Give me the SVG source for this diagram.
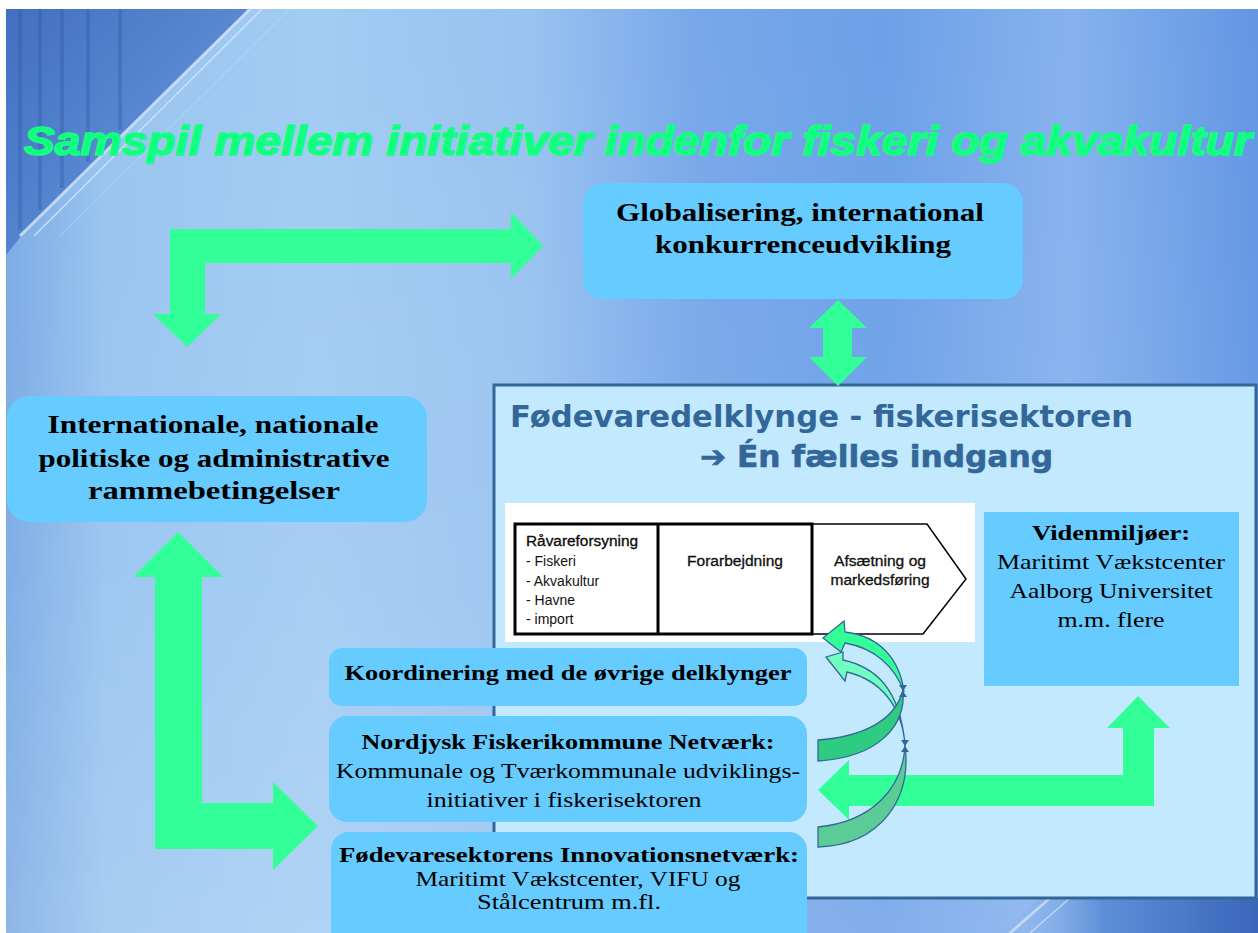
<svg xmlns="http://www.w3.org/2000/svg" width="1258" height="933" viewBox="0 0 1258 933">
<defs>
<linearGradient id="bg" x1="0" y1="0" x2="1" y2="0">
<stop offset="0" stop-color="#7aaae4"/>
<stop offset="0.08" stop-color="#98c4f0"/>
<stop offset="0.25" stop-color="#a2ccf3"/>
<stop offset="0.42" stop-color="#98c2f0"/>
<stop offset="0.55" stop-color="#78a8ea"/>
<stop offset="0.7" stop-color="#6ca0e8"/>
<stop offset="0.85" stop-color="#86b2ee"/>
<stop offset="1" stop-color="#6296e4"/>
</linearGradient>
<linearGradient id="bgv" x1="0" y1="0" x2="0" y2="1">
<stop offset="0" stop-color="#ffffff" stop-opacity="0"/>
<stop offset="0.6" stop-color="#ffffff" stop-opacity="0.05"/>
<stop offset="1" stop-color="#ffffff" stop-opacity="0.15"/>
</linearGradient>
<linearGradient id="dark" x1="0" y1="0" x2="1" y2="1">
<stop offset="0" stop-color="#3864b8"/>
<stop offset="0.6" stop-color="#4f82d0"/>
<stop offset="1" stop-color="#6e9fe2" stop-opacity="0.3"/>
</linearGradient>
<linearGradient id="dark2" x1="0" y1="0" x2="1" y2="0">
<stop offset="0" stop-color="#8db8ec" stop-opacity="0"/>
<stop offset="0.4" stop-color="#5d8fd8"/>
<stop offset="1" stop-color="#3a66b8"/>
</linearGradient>
<style>
.box{fill:#66ccff;}
.arrow{fill:#33ff99;}
.curve{stroke:#336699;stroke-width:1.3;}
.serif{font-family:"Liberation Serif","DejaVu Serif",serif;fill:#000;}
.b{font-weight:bold;}
.mid{text-anchor:middle;}
.proc{font-family:"Liberation Sans",Arial,sans-serif;font-size:14px;fill:#111;}
.ptitle{font-family:"DejaVu Sans","Liberation Sans",sans-serif;font-weight:bold;font-size:30px;fill:#336699;}
</style>
</defs>

<!-- background -->
<rect x="0" y="0" width="1258" height="933" fill="#ffffff"/>
<rect x="6" y="9" width="1252" height="924" fill="url(#bg)"/>
<rect x="6" y="9" width="1252" height="924" fill="url(#bgv)"/>
<polygon points="6,9 250,9 22,235 6,255" fill="url(#dark)" opacity="0.85"/>
<g stroke="#2f5aa8" stroke-width="4" opacity="0.35">
<line x1="20" y1="9" x2="20" y2="230"/>
<line x1="40" y1="9" x2="40" y2="210"/>
<line x1="62" y1="9" x2="62" y2="188"/>
<line x1="88" y1="9" x2="88" y2="162"/>
<line x1="120" y1="9" x2="120" y2="130"/>
</g>
<g stroke="#dbe8fb" fill="none" opacity="0.8">
<line x1="250" y1="9" x2="20" y2="236" stroke-width="3"/>
<line x1="262" y1="9" x2="34" y2="236" stroke-width="1.5"/>
<line x1="290" y1="9" x2="60" y2="236" stroke-width="1" opacity="0.5"/>
</g>
<polygon points="1000,933 1040,898 1258,898 1258,933" fill="url(#dark2)"/>
<g stroke="#dbe8fb" fill="none" opacity="0.7">
<line x1="1010" y1="933" x2="1050" y2="898" stroke-width="2.5"/>
<line x1="1030" y1="933" x2="1070" y2="898" stroke-width="1.5"/>
</g>

<!-- title -->
<g id="title">
<text x="24" y="155" textLength="1228" lengthAdjust="spacingAndGlyphs" font-family="'Liberation Sans',Arial,sans-serif" font-weight="bold" font-style="italic" font-size="41" fill="#12ff80" stroke="#12ff80" stroke-width="1.6" stroke-linejoin="round">Samspil mellem initiativer indenfor fiskeri og akvakultur</text>
</g>

<!-- main panel -->
<g id="node-foedevaredelklynge">
<rect x="494" y="385" width="762" height="513" fill="#c2e9fd" stroke="#336699" stroke-width="3"/>
<text class="ptitle" x="510" y="427" textLength="623" lengthAdjust="spacingAndGlyphs">Fødevaredelklynge - fiskerisektoren</text>
<text class="ptitle" x="700" y="467" textLength="353" lengthAdjust="spacingAndGlyphs" stroke="#336699" stroke-width="0.6">➔ Én fælles indgang</text>
</g>

<g id="node-vaerdikaede">
<rect x="505" y="503" width="470" height="139" fill="#ffffff"/>
<path d="M812,524 L927,524 L966,579 L923,634 L812,634" fill="none" stroke="#000" stroke-width="1.5"/>
<rect x="515" y="524" width="297" height="110" fill="none" stroke="#000" stroke-width="3"/>
<line x1="658" y1="524" x2="658" y2="634" stroke="#000" stroke-width="3"/>
<text class="proc" x="526" y="546" textLength="112" lengthAdjust="spacingAndGlyphs" fill="#000" stroke="#000" stroke-width="0.3">Råvareforsyning</text>
<text class="proc" x="526" y="566" fill="#333">- Fiskeri</text>
<text class="proc" x="526" y="586" fill="#333">- Akvakultur</text>
<text class="proc" x="526" y="605" fill="#333">- Havne</text>
<text class="proc" x="526" y="624" fill="#333">- import</text>
<text class="proc mid" x="735" y="566" textLength="96" lengthAdjust="spacingAndGlyphs" stroke="#111" stroke-width="0.3">Forarbejdning</text>
<text class="proc mid" x="880" y="566" textLength="92" lengthAdjust="spacingAndGlyphs" stroke="#111" stroke-width="0.3">Afsætning og</text>
<text class="proc mid" x="880" y="585" textLength="99" lengthAdjust="spacingAndGlyphs" stroke="#111" stroke-width="0.3">markedsføring</text>
</g>

<g id="node-videnmiljoer">
<rect x="984" y="512" width="255" height="174" class="box"/>
<text class="serif b mid" x="1111" y="540" font-size="21" textLength="158" lengthAdjust="spacingAndGlyphs">Videnmiljøer:</text>
<text class="serif mid" x="1111" y="569" font-size="21" textLength="228" lengthAdjust="spacingAndGlyphs">Maritimt Vækstcenter</text>
<text class="serif mid" x="1111" y="598" font-size="21" textLength="203" lengthAdjust="spacingAndGlyphs">Aalborg Universitet</text>
<text class="serif mid" x="1111" y="627" font-size="21" textLength="107" lengthAdjust="spacingAndGlyphs">m.m. flere</text>
</g>

<g id="node-globalisering">
<rect x="583" y="183" width="440" height="116" rx="20" class="box"/>
<text class="serif b mid" x="800" y="221" font-size="26" textLength="368" lengthAdjust="spacingAndGlyphs">Globalisering, international</text>
<text class="serif b mid" x="803" y="253" font-size="26" textLength="296" lengthAdjust="spacingAndGlyphs">konkurrenceudvikling</text>
</g>

<g id="node-internationale">
<rect x="7" y="396" width="420" height="126" rx="22" class="box"/>
<text class="serif b mid" x="213" y="433" font-size="26" textLength="331" lengthAdjust="spacingAndGlyphs">Internationale, nationale</text>
<text class="serif b mid" x="214" y="467" font-size="26" textLength="351" lengthAdjust="spacingAndGlyphs">politiske og administrative</text>
<text class="serif b mid" x="214" y="499" font-size="26" textLength="252" lengthAdjust="spacingAndGlyphs">rammebetingelser</text>
</g>

<g id="node-koordinering">
<rect x="329" y="648" width="478" height="58" rx="13" class="box"/>
<text class="serif b mid" x="568" y="680" font-size="22" textLength="447" lengthAdjust="spacingAndGlyphs">Koordinering med de øvrige delklynger</text>
</g>

<g id="node-nordjysk">
<rect x="329" y="716" width="478" height="106" rx="18" class="box"/>
<text class="serif b mid" x="568" y="749" font-size="22" textLength="413" lengthAdjust="spacingAndGlyphs">Nordjysk Fiskerikommune Netværk:</text>
<text class="serif mid" x="568" y="778" font-size="22" textLength="464" lengthAdjust="spacingAndGlyphs">Kommunale og Tværkommunale udviklings-</text>
<text class="serif mid" x="564" y="807" font-size="22" textLength="275" lengthAdjust="spacingAndGlyphs">initiativer i fiskerisektoren</text>
</g>

<g id="node-innovationsnetvaerk">
<rect x="331" y="832" width="476" height="120" rx="18" class="box"/>
<text class="serif b mid" x="569" y="862" font-size="22" textLength="460" lengthAdjust="spacingAndGlyphs">Fødevaresektorens Innovationsnetværk:</text>
<text class="serif mid" x="578" y="886" font-size="21" textLength="325" lengthAdjust="spacingAndGlyphs">Maritimt Vækstcenter, VIFU og</text>
<text class="serif mid" x="569" y="909" font-size="21" textLength="184" lengthAdjust="spacingAndGlyphs">Stålcentrum m.fl.</text>
</g>

<!-- connectors -->
<g id="connectors">
<polygon class="arrow" points="170,229 511,229 511,212 543,246 511,279 511,263 205,263 205,314 221,314 187,347 153,314 170,314"/>
<polygon class="arrow" points="178,532 223,577 202,577 202,803 273,803 273,782 318,826 273,870 273,849 155,849 155,577 133,577"/>
<polygon class="arrow" points="838,300 867,328 852,328 852,357 867,357 838,386 809,357 823,357 823,328 809,328"/>
<polygon class="arrow" points="818,790 849,760 849,775 1123,775 1123,728 1107,728 1138,696 1170,728 1154,728 1154,806 849,806 849,820"/>
<path class="curve" fill="#70ffc0" d="M826,657 L843,652 L843,660 C875,667 900,688 905,745 C902,705 880,680 847,672 L845,681 Z"/>
<path class="curve" fill="#33ff99" d="M823,638 L844,621 L845,632 C880,636 900,660 904,692 C895,667 875,648 845,643 L841,652 Z"/>
<path class="curve" fill="#2ecc80" d="M818,740 C860,737 895,722 903,690 C906,725 880,757 818,761 Z"/>
<path class="curve" fill="#5ccc96" d="M818,827 C870,822 903,790 905,745 C912,800 880,845 818,847 Z"/>
<polygon points="899,685 907,685 903,691 907,697 899,697 903,691" fill="#336699"/>
<polygon points="901,740 909,740 905,746 909,752 901,752 905,746" fill="#336699"/>
</g>
</svg>
